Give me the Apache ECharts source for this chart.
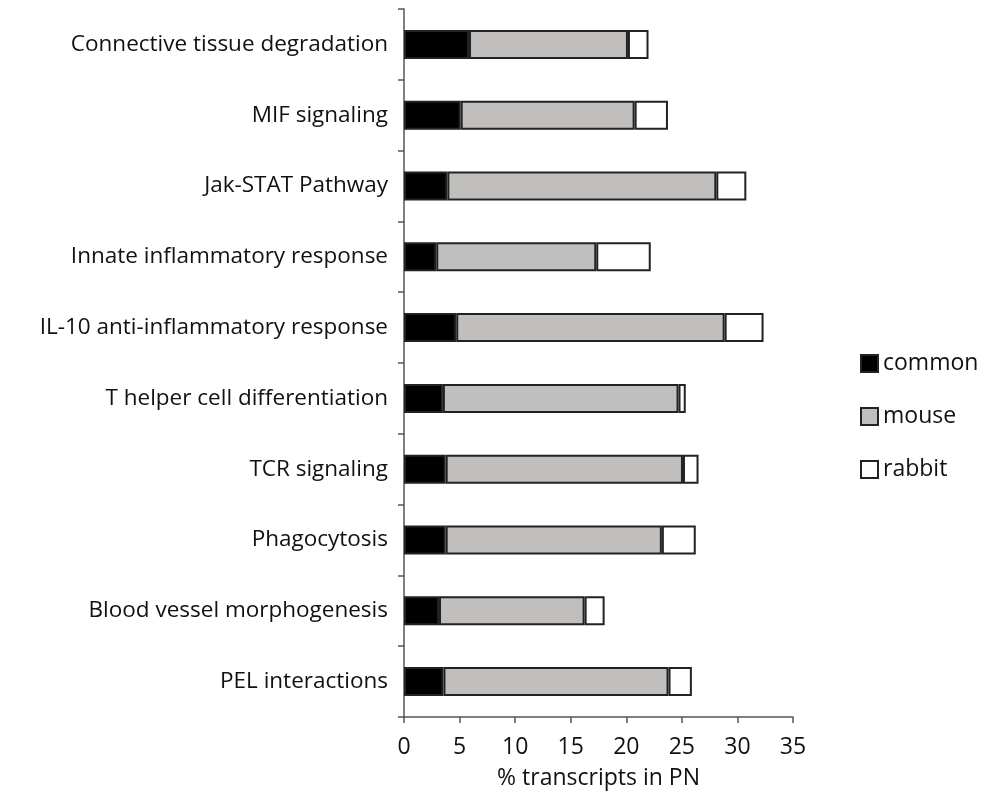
<!DOCTYPE html>
<html>
<head>
<meta charset="utf-8">
<script src="https://cdn.jsdelivr.net/npm/echarts@6/dist/echarts.min.js"></script>
<style>html,body{margin:0;padding:0;background:#fff}#c{width:989px;height:801px}</style>
</head>
<body>
<div id="c"></div>
<script>
const categories = [
  "Connective tissue degradation",
  "MIF signaling",
  "Jak-STAT Pathway",
  "Innate inflammatory response",
  "IL-10 anti-inflammatory response",
  "T helper cell differentiation",
  "TCR signaling",
  "Phagocytosis",
  "Blood vessel morphogenesis",
  "PEL interactions"
];
const commonVals = [5.85, 5.1, 3.9, 2.9, 4.7, 3.5, 3.75, 3.75, 3.15, 3.55];
const mouseVals  = [14.3, 15.65, 24.2, 14.4, 24.15, 21.2, 21.35, 19.45, 13.1, 20.25];
const rabbitVals = [1.85, 3.0, 2.7, 4.9, 3.5, 0.65, 1.4, 3.05, 1.8, 2.1];
const xTicks = [0, 5, 10, 15, 20, 25, 30, 35];

const FONT = "Open Sans";
const chart = echarts.init(document.getElementById('c'));
const border = {borderColor: '#222', borderWidth: 2};
function mk(name, data, color) {
  return {
    name: name, type: 'bar', stack: 'total', data: data,
    barWidth: 29,
    itemStyle: Object.assign({color: color}, border),
    emphasis: {disabled: true}
  };
}
chart.setOption({
  animation: false,
  textStyle: {fontFamily: FONT},
  grid: {left: 404, right: 196, top: 9, bottom: 84, containLabel: false},
  xAxis: {
    type: 'value', min: xTicks[0], max: xTicks[xTicks.length - 1], interval: 5,
    splitLine: {show: false},
    axisLine: {show: true, lineStyle: {color: '#555', width: 1.5}},
    axisTick: {show: true, length: 6, lineStyle: {color: '#555', width: 1.5}},
    axisLabel: {fontSize: 23, color: '#111', margin: 19, fontFamily: FONT},
    name: '% transcripts in PN', nameLocation: 'middle', nameGap: 50,
    nameTextStyle: {fontSize: 23, color: '#111', fontFamily: FONT}
  },
  yAxis: {
    type: 'category', data: categories, inverse: true,
    axisLine: {show: true, lineStyle: {color: '#555', width: 1.5}},
    axisTick: {show: true, length: 6, lineStyle: {color: '#555', width: 1.5}},
    axisLabel: {fontSize: 22.5, color: '#111', margin: 16, fontFamily: FONT}
  },
  legend: {
    orient: 'vertical', left: 855, top: 347,
    itemWidth: 17, itemHeight: 17, itemGap: 30,
    icon: 'rect',
    textStyle: {fontSize: 23, color: '#111', fontFamily: FONT, padding: [0, 0, 0, 0]},
    data: ['common', 'mouse', 'rabbit']
  },
  series: [
    mk('common', commonVals, '#000000'),
    mk('mouse', mouseVals, '#c0bfbd'),
    mk('rabbit', rabbitVals, '#ffffff')
  ]
});
</script>
</body>
</html>
